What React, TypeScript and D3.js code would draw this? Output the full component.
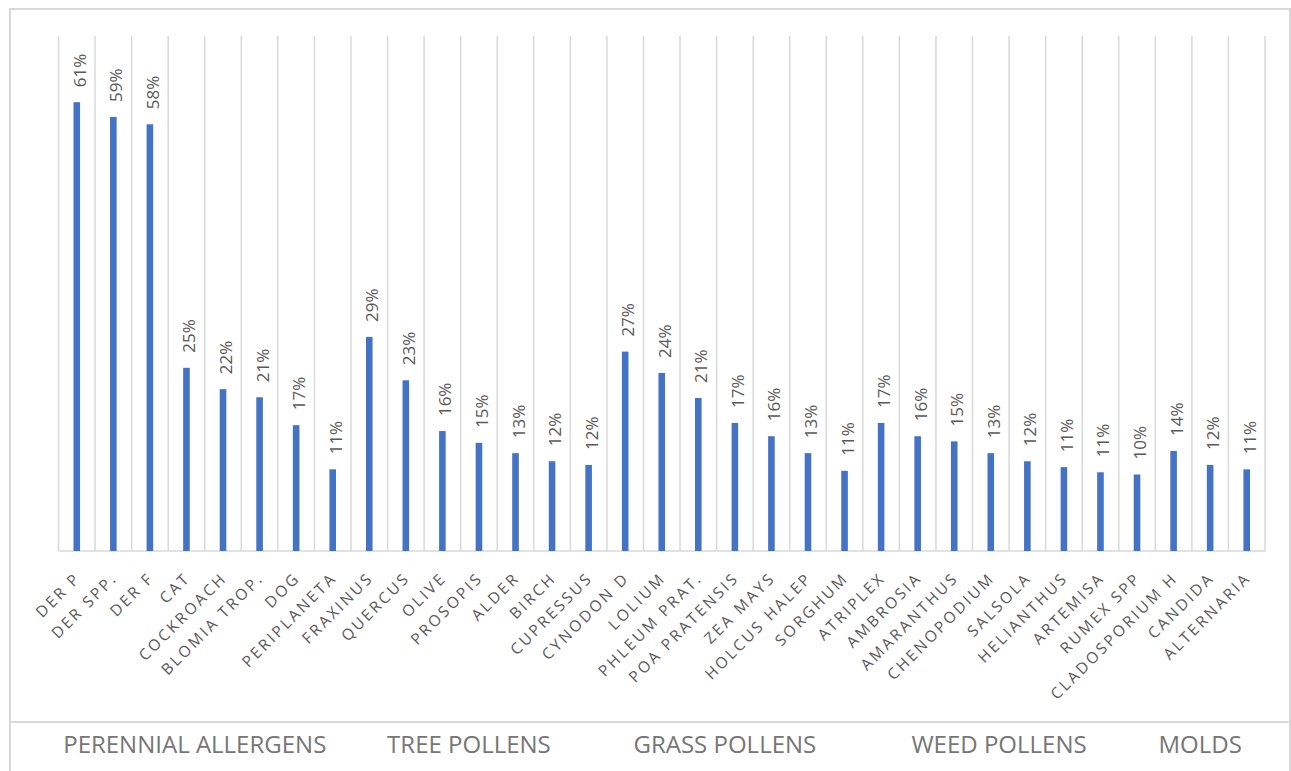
import React from 'react';
import * as d3 from 'd3';

// allergen sensitisation rates
const categories = [
  'DER P', 'DER SPP.', 'DER F', 'CAT', 'COCKROACH', 'BLOMIA TROP.', 'DOG', 'PERIPLANETA',
  'FRAXINUS', 'QUERCUS', 'OLIVE', 'PROSOPIS', 'ALDER', 'BIRCH', 'CUPRESSUS',
  'CYNODON D', 'LOLIUM', 'PHLEUM PRAT.', 'POA PRATENSIS', 'ZEA MAYS', 'HOLCUS HALEP', 'SORGHUM',
  'ATRIPLEX', 'AMBROSIA', 'AMARANTHUS', 'CHENOPODIUM', 'SALSOLA', 'HELIANTHUS', 'ARTEMISA', 'RUMEX SPP',
  'CLADOSPORIUM H', 'CANDIDA', 'ALTERNARIA',
];
const values = [
  0.61, 0.59, 0.58, 0.249, 0.22, 0.209, 0.171, 0.111,
  0.291, 0.232, 0.163, 0.147, 0.133, 0.122, 0.117,
  0.271, 0.242, 0.208, 0.174, 0.156, 0.133, 0.109,
  0.174, 0.156, 0.149, 0.133, 0.122, 0.114, 0.107, 0.104,
  0.136, 0.117, 0.111,
];
const groups = ['PERENNIAL ALLERGENS', 'TREE POLLENS', 'GRASS POLLENS', 'WEED POLLENS', 'MOLDS'];
const groupSizes = [8, 7, 7, 8, 3];

const W = 1291;
const H = 771;
const FONT = '"Open Sans", "DejaVu Sans", sans-serif';
const GRID = '#d9d9d9';
const TEXT = '#595959';

const App = () => {
  const margin = { left: 58.5, right: 26, top: 36, bottom: 220 };
  const x = d3.scaleBand<string>()
    .domain(categories)
    .range([margin.left, W - margin.right])
    .padding(0);
  const y = d3.scaleLinear().domain([0, 0.7]).range([H - margin.bottom, margin.top]);
  const step = x.step();
  const barW = step * 0.18;
  const fmt = d3.format('.0%');
  const y0 = y(0);

  // group spans on the band scale
  let start = 0;
  const groupSpans = groups.map((g, i) => {
    const first = categories[start];
    const last = categories[start + groupSizes[i] - 1];
    start += groupSizes[i];
    return { name: g, x0: x(first)!, x1: x(last)! + step };
  });

  return (
    <svg width={W} height={H} style={{ position: 'absolute', left: 0, top: 0, background: '#fff' }}>
      {/* outer frame */}
      <path d={`M10,${H + 2} V9 H1290 V${H + 2}`} fill="none" stroke={GRID} strokeWidth={2} />
      <line x1={10} x2={1290} y1={722} y2={722} stroke={GRID} strokeWidth={2} />

      {/* vertical gridlines at category boundaries */}
      {d3.range(categories.length + 1).map(i => {
        const gx = margin.left + i * step;
        return <line key={i} x1={gx} x2={gx} y1={y.range()[1]} y2={y0} stroke={GRID} strokeWidth={1.5} />;
      })}
      <line x1={margin.left} x2={W - margin.right} y1={y0} y2={y0} stroke={GRID} strokeWidth={1.5} />

      {/* bars */}
      {categories.map((c, i) => {
        const cx = x(c)! + step / 2;
        return (
          <rect key={c} x={cx - barW / 2} y={y(values[i])} width={barW} height={y0 - y(values[i])} fill="#4472c4" />
        );
      })}

      {/* value labels */}
      {categories.map((c, i) => {
        const cx = x(c)! + step / 2;
        const ty = y(values[i]) - 15;
        return (
          <text key={c} transform={`translate(${cx + 9},${ty}) rotate(-90)`} fontFamily={FONT} fontSize={17}
            fill={TEXT} textAnchor="start">{fmt(values[i])}</text>
        );
      })}

      {/* category labels */}
      {categories.map(c => {
        const cx = x(c)! + step / 2;
        return (
          <text key={c} transform={`translate(${cx + 5},${y0 + 28}) rotate(-45)`} fontFamily={FONT} fontSize={15.5}
            letterSpacing={2.6} fill={TEXT} textAnchor="end">{c}</text>
        );
      })}

      {/* group labels */}
      {groupSpans.map(g => (
        <text key={g.name} x={(g.x0 + g.x1) / 2 - 10} y={753} fontFamily={FONT} fontSize={24}
          fill="#767676" textAnchor="middle">{g.name}</text>
      ))}
    </svg>
  );
};

export default App;
